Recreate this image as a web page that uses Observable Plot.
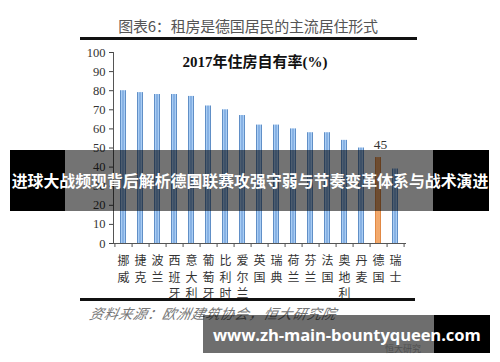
<!DOCTYPE html>
<html><head><meta charset="utf-8">
<script src="https://cdn.jsdelivr.net/npm/d3@7"></script>
<script src="https://cdn.jsdelivr.net/npm/@observablehq/plot@0.6"></script>
<style>
body{margin:0;background:#fff;}
#wrap{position:relative;width:500px;height:362px;overflow:hidden;background:#fff;}
#wrap svg{position:absolute;left:0;top:0;}
.abs{position:absolute;}
</style></head><body>
<div id="wrap"></div>
<script>
const countries = ["挪威","捷克","波兰","西班牙","意大利","葡萄牙","比利时","爱尔兰","英国","瑞典","荷兰","芬兰","法国","奥地利","丹麦","德国","瑞士"];
const ownership = [80,79,78,78,77,72,70,67,62,62,60,58,58,54,50,45,39];
const highlight = "德国";
const yTicks = [0,10,20,30,40,50,60,70,80,90,100];
const titleText = "图表6：租房是德国居民的主流居住形式";
const chartTitle = "2017年住房自有率(%)";
const sourceText = "资料来源：欧洲建筑协会，恒大研究院";
const bannerText = "进球大战频现背后解析德国联赛攻强守弱与节奏变革体系与战术演进";
const siteText = "www.zh-main-bountyqueen.com";

const data = countries.map((c,i)=>({country:c, value:ownership[i]}));
const mL=113, mR=95, mT=52, mB=119, W=500, H=362;
const step = (W-mL-mR)/countries.length;
const serif = "'Liberation Serif','Noto Sans CJK SC',serif";

const chart = Plot.plot({
  width: W, height: H,
  marginLeft: mL, marginRight: mR, marginTop: mT, marginBottom: mB,
  style: {fontFamily: serif, background: "transparent", color: "#333"},
  x: {domain: countries, paddingInner: 0.63, paddingOuter: 0.315, axis: null},
  y: {domain: [0,100], axis: null},
  marks: [
    Plot.barY(data, {x:"country", y:"value", fill: d => d.country===highlight ? "url(#gOrange)" : "url(#gBlue)"}),
    Plot.axisY({ticks: yTicks, tickSize: 4, tickPadding: 4, fontSize: 12.5, stroke:"#444", fill:"#333", label:null}),
    Plot.frame({anchor:"left", stroke:"#555"}),
    Plot.frame({anchor:"bottom", stroke:"#555"}),
    Plot.ruleX(data, {x:"country", y1:0, y2:0, dx: step/2, insetBottom:-4, stroke:"#555"}),
    Plot.ruleX(data.slice(0,1), {x:"country", y1:0, y2:0, dx: -step/2, insetBottom:-4, stroke:"#555"}),
    Plot.text(data, {x:"country", text: d => d.country.split("").join("\n"), frameAnchor:"bottom", lineAnchor:"top", dy: 10, lineHeight: 1.38, fontSize: 12, fill:"#333", fontFamily:"'Noto Sans CJK SC',sans-serif"}),
    Plot.text(data.filter(d=>d.country===highlight), {x:"country", y:"value", text: d=>String(d.value), dy:-13, dx:2, fontSize:13.5, fill:"#333"})
  ]
});
const ns = "http://www.w3.org/2000/svg";
const defs = document.createElementNS(ns,"defs");
defs.innerHTML = `
<linearGradient id="gBlue" x1="0" x2="1" y1="0" y2="0">
<stop offset="0" stop-color="#3c70b0"/><stop offset="0.25" stop-color="#a9cdf4"/><stop offset="0.5" stop-color="#76a4dc"/><stop offset="0.75" stop-color="#a9cdf4"/><stop offset="1" stop-color="#3c70b0"/>
</linearGradient>
<linearGradient id="gOrange" x1="0" x2="1" y1="0" y2="0">
<stop offset="0" stop-color="#d9782f"/><stop offset="0.3" stop-color="#f7b57c"/><stop offset="0.5" stop-color="#f0a060"/><stop offset="0.7" stop-color="#f7b57c"/><stop offset="1" stop-color="#d9782f"/>
</linearGradient>`;
chart.insertBefore(defs, chart.firstChild);
const wrap = document.getElementById("wrap");
wrap.appendChild(chart);

function add(html){ wrap.insertAdjacentHTML("beforeend", html); }
add(`<div class="abs" style="left:0;width:496px;top:15px;text-align:center;font:15px 'Noto Sans CJK SC',sans-serif;color:#555;letter-spacing:-0.2px">${titleText}</div>`);
add(`<div class="abs" style="left:80px;width:337px;top:37px;height:3px;background:#111"></div>`);
add(`<div class="abs" style="left:0;width:510px;top:50px;text-align:center;font:bold 15px ${serif};color:#111">${chartTitle}</div>`);
add(`<div class="abs" style="left:80px;width:335px;top:298px;height:2.5px;background:#111"></div>`);
add(`<div class="abs" style="left:90px;top:303px;font:italic 14px 'Noto Sans CJK SC',sans-serif;color:#777;transform:skewX(-12deg);letter-spacing:0.5px">${sourceText}</div>`);
add(`<div class="abs" style="left:385px;top:342px;font:9px 'Noto Sans CJK SC',sans-serif;color:#bbb">恒大研究</div>`);
// banner
add(`<div class="abs" style="left:10px;width:55px;top:150px;height:61px;background:#000"></div>`);
add(`<div class="abs" style="left:65px;width:368px;top:150px;height:61px;background:rgba(0,0,0,0.55)"></div>`);
add(`<div class="abs" style="left:433px;width:56px;top:150px;height:61px;background:#000"></div>`);
add(`<div class="abs" style="left:0;width:500px;top:169px;text-align:center;font:bold 15.9px 'Noto Sans CJK SC',sans-serif;color:#fff;white-space:nowrap">${bannerText}</div>`);
// site box
add(`<div class="abs" style="left:203px;width:231px;top:315px;height:38px;background:rgba(0,0,0,0.57)"></div>`);
add(`<div class="abs" style="left:434px;width:56px;top:315px;height:38px;background:#000"></div>`);
add(`<div class="abs" style="left:213px;top:323px;font:bold 16.6px 'Open Sans',sans-serif;color:#fff;white-space:nowrap;letter-spacing:-0.1px">${siteText}</div>`);
</script>
</body></html>
